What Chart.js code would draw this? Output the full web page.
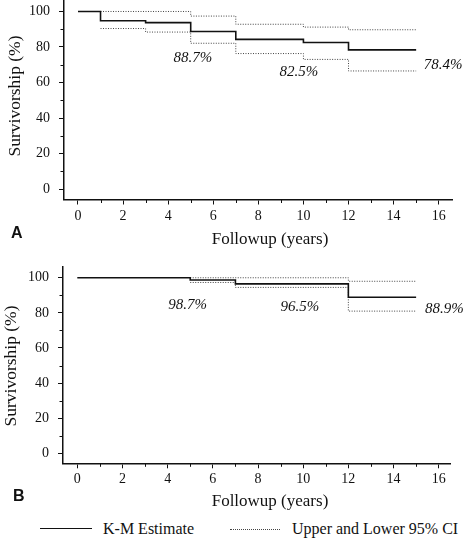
<!DOCTYPE html>
<html>
<head>
<meta charset="utf-8">
<script src="https://cdn.jsdelivr.net/npm/chart.js@4.4.1/dist/chart.umd.min.js"></script>
<style>
  body { margin: 0; background: #fff; }
  #wrap { position: relative; width: 466px; height: 538px; font-family: "Liberation Serif", "Times New Roman", Times, serif; color: #111; }
  canvas { position: absolute; left: 0; }
  #chartA { top: 0; }
  #chartB { top: 250px; }
  .key { position: absolute; top: 521px; font-size: 16px; line-height: 16px; white-space: nowrap; }
  .swatch { position: absolute; }
</style>
</head>
<body>
<div id="wrap">
  <canvas id="chartA" width="466" height="250"></canvas>
  <canvas id="chartB" width="466" height="265"></canvas>
  <div class="swatch" style="left:40px; top:528px; width:52px; border-top:1.6px solid #111;"></div>
  <div class="key" style="left:103px;">K-M Estimate</div>
  <div class="swatch" style="left:230px; top:529px; width:50px; border-top:1px dotted #444;"></div>
  <div class="key" style="left:292px;">Upper and Lower 95% CI</div>
</div>
<script>
// panel A
const kmYearsA = [0, 1, 3, 5, 7, 10, 12, 15];
const kmValuesA = [100, 94.8, 93.7, 88.7, 84.3, 82.5, 78.4, 78.4];
const upperYearsA = [1, 5, 7, 10, 12, 15];
const upperValuesA = [100, 97.4, 92.8, 91.2, 89.7, 89.7];
const lowerYearsA = [1, 3, 5, 7, 10, 12, 15];
const lowerValuesA = [90.4, 88.4, 82.1, 76.3, 73.0, 66.5, 66.5];
const notesA = ['88.7%', '82.5%', '78.4%'];

// panel B
const kmYearsB = [0, 5, 7, 12, 15];
const kmValuesB = [100, 98.7, 96.5, 88.9, 88.9];
const upperYearsB = [5, 12, 15];
const upperValuesB = [100, 98.0, 98.0];
const lowerYearsB = [5, 7, 12, 15];
const lowerValuesB = [97.3, 94.5, 81.0, 81.0];
const notesB = ['98.7%', '96.5%', '88.9%'];

const yTickValues = [0, 20, 40, 60, 80, 100];
const xTickValues = [0, 2, 4, 6, 8, 10, 12, 14, 16];
const yMinorValues = [10, 30, 50, 70, 90];
const xMinorValues = [1, 3, 5, 7, 9, 11, 13, 15];

const SERIF = '"Liberation Serif", "Times New Roman", Times, serif';
const SANS = '"Liberation Sans", Arial, Helvetica, sans-serif';

const pts = (xs, ys) => xs.map((x, i) => ({ x: x, y: ys[i] }));

const minorTicks = {
  id: 'minorTicks',
  afterDraw(chart) {
    const { ctx, scales: { x, y } } = chart;
    ctx.save();
    ctx.strokeStyle = '#111';
    ctx.lineWidth = 1;
    xMinorValues.forEach(v => {
      const px = Math.round(x.getPixelForValue(v)) + 0.5;
      ctx.beginPath(); ctx.moveTo(px, x.top); ctx.lineTo(px, x.top + 3.5); ctx.stroke();
    });
    yMinorValues.forEach(v => {
      const py = Math.round(y.getPixelForValue(v)) + 0.5;
      ctx.beginPath(); ctx.moveTo(y.right, py); ctx.lineTo(y.right - 3.5, py); ctx.stroke();
    });
    ctx.restore();
  }
};

const panelText = {
  id: 'panelText',
  afterDraw(chart, args, o) {
    const { ctx, scales: { x, y } } = chart;
    ctx.save();
    ctx.fillStyle = '#111';
    ctx.textAlign = 'center';
    ctx.textBaseline = 'middle';
    ctx.font = 'italic 15px ' + SERIF;
    o.notes.forEach((t, i) => {
      ctx.fillText(t, x.getPixelForValue(o.notePos[i][0]), y.getPixelForValue(o.notePos[i][1]));
    });
    ctx.font = '17px ' + SERIF;
    ctx.fillText('Followup (years)', o.xTitle[0], o.xTitle[1]);
    ctx.save();
    ctx.translate(o.yTitle[0], o.yTitle[1]);
    ctx.rotate(-Math.PI / 2);
    ctx.font = '17.5px ' + SERIF;
    ctx.fillText('Survivorship (%)', 0, 0);
    ctx.restore();
    ctx.textAlign = 'left';
    ctx.textBaseline = 'alphabetic';
    ctx.font = 'bold 16px ' + SANS;
    ctx.fillText(o.letter, o.letterPos[0], o.letterPos[1]);
    ctx.restore();
  }
};

function makeChart(id, d) {
  const fitAxis = (size, key) => scale => {
    scale[key] = size;
    scale.paddingTop = 0; scale.paddingBottom = 0;
    scale.paddingLeft = 0; scale.paddingRight = 0;
  };
  return new Chart(document.getElementById(id), {
    type: 'line',
    data: {
      datasets: [
        { data: pts(d.kmX, d.kmY), stepped: 'before', borderColor: '#111', borderWidth: 1.6 },
        { data: pts(d.upX, d.upY), stepped: 'before', borderColor: '#444', borderWidth: 1, borderDash: [1, 1.5] },
        { data: pts(d.loX, d.loY), stepped: 'before', borderColor: '#444', borderWidth: 1, borderDash: [1, 1.5] }
      ]
    },
    options: {
      responsive: false,
      animation: false,
      events: [],
      elements: { point: { radius: 0 }, line: { tension: 0, fill: false } },
      layout: { padding: d.pad },
      plugins: {
        legend: { display: false },
        tooltip: { enabled: false },
        panelText: { notes: d.notes, notePos: d.notePos, xTitle: d.xTitle, yTitle: d.yTitle, letter: d.letter, letterPos: d.letterPos }
      },
      scales: {
        x: {
          type: 'linear', min: d.xMin, max: d.xMax,
          afterFit: fitAxis(d.xHeight, 'height'),
          afterBuildTicks: s => { s.ticks = xTickValues.map(v => ({ value: v })); },
          border: { color: '#111', width: 1.5 },
          grid: { drawOnChartArea: false, tickLength: 5, color: '#111', lineWidth: 1 },
          ticks: { color: '#111', padding: d.xPad, maxRotation: 0, font: { family: SERIF, size: 14 } }
        },
        y: {
          type: 'linear', min: d.yMin, max: d.yMax,
          afterFit: fitAxis(d.yWidth, 'width'),
          afterBuildTicks: s => { s.ticks = yTickValues.map(v => ({ value: v })); },
          border: { color: '#111', width: 1.5 },
          grid: { drawOnChartArea: false, tickLength: 5, color: '#111', lineWidth: 1 },
          ticks: { color: '#111', padding: 9, font: { family: SERIF, size: 14 } }
        }
      }
    },
    plugins: [minorTicks, panelText]
  });
}

function drawAll() {
  makeChart('chartA', {
    kmX: kmYearsA, kmY: kmValuesA, upX: upperYearsA, upY: upperValuesA, loX: lowerYearsA, loY: lowerValuesA,
    notes: notesA, notePos: [[5.1, 73.8], [9.8, 65.9], [16.2, 69.9]],
    xTitle: [270, 240], yTitle: [15, 96], letter: 'A', letterPos: [11, 238],
    pad: { left: 0, right: 14, top: 1, bottom: 0 },
    xMin: -0.62, xMax: 16.59, yMin: -5.9, yMax: 105.9,
    xHeight: 50.5, yWidth: 64, xPad: 3
  });

  makeChart('chartB', {
    kmX: kmYearsB, kmY: kmValuesB, upX: upperYearsB, upY: upperValuesB, loX: lowerYearsB, loY: lowerValuesB,
    notes: notesB, notePos: [[4.88, 84.5], [9.85, 83.3], [16.25, 82.1]],
    xTitle: [270, 252], yTitle: [11, 116], letter: 'B', letterPos: [13, 251],
    pad: { left: 0, right: 16, top: 16.7, bottom: 0 },
    xMin: -0.633, xMax: 16.5, yMin: -5.7, yMax: 106.3,
    xHeight: 51.7, yWidth: 63, xPad: 2.3
  });
}

// make sure the serif faces are ready before the canvas text is drawn
Promise.all([
  document.fonts.load('14px "Liberation Serif"'),
  document.fonts.load('italic 15px "Liberation Serif"'),
  document.fonts.load('bold 16px "Liberation Sans"')
]).then(drawAll, drawAll);
</script>
</body>
</html>
